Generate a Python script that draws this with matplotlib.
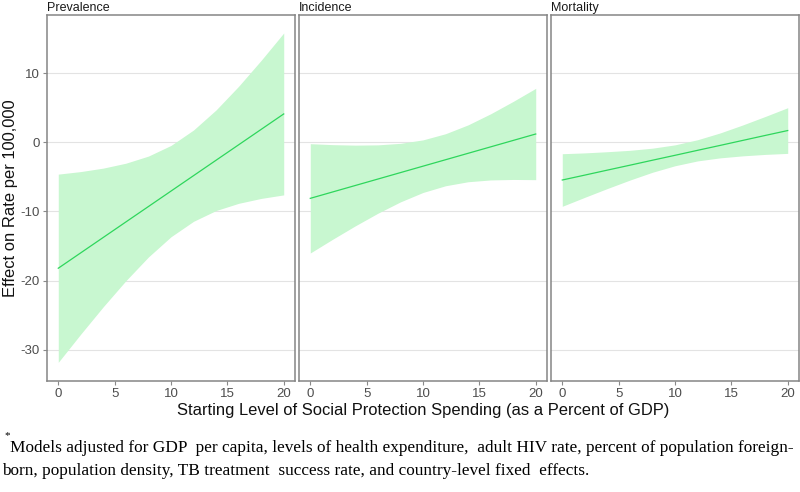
import matplotlib
matplotlib.use("Agg")
import matplotlib.pyplot as plt

plt.rcParams["axes.unicode_minus"] = False
plt.rcParams["font.family"] = ["Liberation Sans", "DejaVu Sans"]

# ---- data ----
x_vals = [0, 2, 4, 6, 8, 10, 12, 14, 16, 18, 20]
panels = ["Prevalence", "Incidence", "Mortality"]

prev_fit = [-18.2, -15.97, -13.74, -11.51, -9.28, -7.05, -4.82, -2.59, -0.36, 1.87, 4.1]
prev_up = [-4.6, -4.23, -3.73, -3.02, -1.99, -0.45, 1.78, 4.68, 8.1, 11.85, 15.8]
prev_lo = [-31.8, -27.71, -23.75, -20.0, -16.57, -13.65, -11.42, -9.86, -8.82, -8.11, -7.6]

inc_fit = [-8.1, -7.17, -6.24, -5.31, -4.38, -3.45, -2.52, -1.59, -0.66, 0.27, 1.2]
inc_up = [-0.2, -0.34, -0.41, -0.37, -0.15, 0.35, 1.24, 2.52, 4.12, 5.91, 7.8]
inc_lo = [-16.0, -14.0, -12.07, -10.25, -8.61, -7.25, -6.28, -5.7, -5.44, -5.37, -5.4]

mort_fit = [-5.45, -4.74, -4.02, -3.31, -2.59, -1.88, -1.16, -0.45, 0.27, 0.99, 1.7]
mort_up = [-1.65, -1.53, -1.36, -1.16, -0.85, -0.37, 0.37, 1.35, 2.5, 3.73, 5.0]
mort_lo = [-9.25, -7.95, -6.68, -5.46, -4.33, -3.39, -2.69, -2.25, -1.96, -1.75, -1.6]

fits = [prev_fit, inc_fit, mort_fit]
ups = [prev_up, inc_up, mort_up]
los = [prev_lo, inc_lo, mort_lo]

x_ticks = [0, 5, 10, 15, 20]
y_ticks = [-30, -20, -10, 0, 10]

x_label = "Starting Level of Social Protection Spending (as a Percent of GDP)"
y_label = "Effect on Rate per 100,000"
note_line1 = "Models adjusted for GDP  per capita, levels of health expenditure,  adult HIV rate, percent of population foreign-"
note_line2 = "born, population density, TB treatment  success rate, and country-level fixed  effects."

# ---- figure ----
fig = plt.figure(figsize=(8, 4.92), dpi=100)
band_col = "#c8f7d0"
line_col = "#2ed65c"
frame_col = "#858585"

bottom = 1 - 381 / 492
top = 1 - 15 / 492
lefts = [47 / 800, 299 / 800, 551 / 800]
width = 248 / 800

for i, name in enumerate(panels):
    ax = fig.add_axes([lefts[i], bottom, width, top - bottom])
    ax.fill_between(x_vals, los[i], ups[i], color=band_col, lw=0, zorder=2)
    ax.plot(x_vals, fits[i], color=line_col, lw=0.9, zorder=3)
    ax.set_xlim(-1, 21)
    ax.set_ylim(-34.5, 18.4)
    ax.set_xticks(x_ticks)
    ax.set_yticks(y_ticks)
    ax.grid(axis="y", color="#e3e3e3", lw=0.8, zorder=0)
    ax.set_axisbelow(True)
    for sp in ax.spines.values():
        sp.set_color(frame_col)
        sp.set_linewidth(1.1)
    ax.tick_params(axis="both", colors="#8a8a8a", labelcolor="#4d4d4d",
                   labelsize=9.5, length=3, width=0.8, pad=2)
    if i > 0:
        ax.tick_params(axis="y", left=False, labelleft=False)
    ax.text(0.0, 1.004, name, transform=ax.transAxes, ha="left", va="bottom",
            fontsize=9, color="#1a1a1a")

fig.text(423 / 800, 1 - 410 / 492, x_label, ha="center", va="center",
         fontsize=11.9, color="#111111")
fig.text(11 / 800, 1 - 198 / 492, y_label, rotation=90, ha="center",
         va="center", fontsize=11.9, color="#111111")

fig.text(4 / 800, 1 - 436 / 492, "*", fontsize=8, family="Liberation Serif",
         ha="left", va="center", color="black")
fig.text(10 / 800, 1 - 448 / 492, note_line1, fontsize=12.4,
         family="Liberation Serif", ha="left", va="center", color="black")
fig.text(2 / 800, 1 - 471 / 492, note_line2, fontsize=12.4,
         family="Liberation Serif", ha="left", va="center", color="black")

fig.savefig("out.png", dpi=100)
